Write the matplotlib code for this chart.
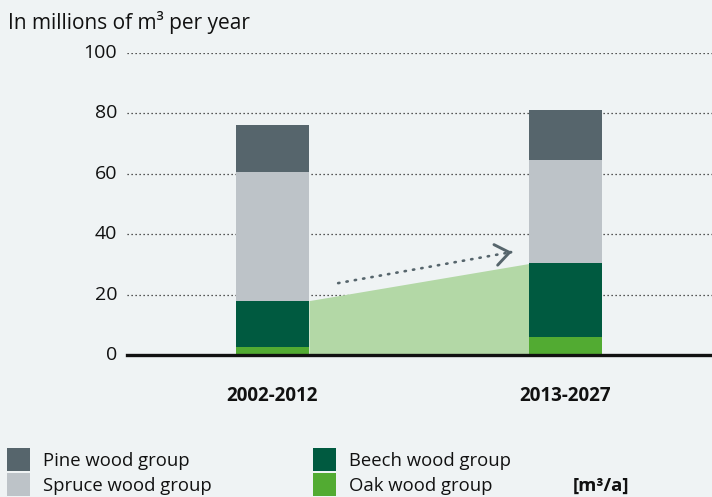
import matplotlib
matplotlib.use("Agg")
import matplotlib.pyplot as plt
from matplotlib.patches import Rectangle

plt.rcParams['font.family'] = ['Open Sans', 'DejaVu Sans']

periods = ["2002-2012", "2013-2027"]
oak = [2.7, 6.0]
beech = [15.3, 24.3]
spruce = [42.5, 34.4]
pine = [15.5, 16.3]
y_ticks = [0, 20, 40, 60, 80, 100]
arrow_start = (0.224, 23.8)
arrow_end = (0.817, 34.1)

series_names = ["Pine wood group", "Spruce wood group", "Beech wood group", "Oak wood group"]
c_pine = "#56656c"
c_spruce = "#bdc3c8"
c_beech = "#005a40"
c_oak = "#52ab32"
c_area = "#b3d8a6"
bg = "#eff3f4"

W, H = 712, 497
fig = plt.figure(figsize=(W / 100, H / 100), dpi=100, facecolor=bg)
ax = fig.add_axes([127 / W, (H - 355) / H, (712 - 127) / W, 302 / H])
ax.set_facecolor(bg)

ax.set_xlim(-0.4966, 1.5)
ax.set_ylim(0, 100)

x = [0, 1]
bw = 0.249
b_oak = [0, 0]
b_beech = oak
b_spruce = [o + b for o, b in zip(oak, beech)]
b_pine = [s + sp for s, sp in zip(b_spruce, spruce)]

ax.fill_between([x[0] + bw / 2, x[1] - bw / 2], [0, 0], [b_spruce[0], b_spruce[1]],
                color=c_area, lw=0, zorder=2)

for yv in y_ticks[1:]:
    ax.axhline(yv, color="#222222", lw=0.9, ls=(0, (1, 2.2)), zorder=1)

ax.bar(x, oak, bw, bottom=b_oak, color=c_oak, zorder=3)
ax.bar(x, beech, bw, bottom=b_beech, color=c_beech, zorder=3)
ax.bar(x, spruce, bw, bottom=b_spruce, color=c_spruce, zorder=3)
ax.bar(x, pine, bw, bottom=b_pine, color=c_pine, zorder=3)

# dotted arrow shaft + open chevron head
fx = arrow_start[0] + 0.965 * (arrow_end[0] - arrow_start[0])
fy = arrow_start[1] + 0.965 * (arrow_end[1] - arrow_start[1])
ax.plot([arrow_start[0], fx], [arrow_start[1], fy],
        color=c_pine, lw=1.9, ls=(0, (0.5, 2.7)), dash_capstyle="round", zorder=4)
hx = arrow_start[0] + 0.995 * (arrow_end[0] - arrow_start[0])
hy = arrow_start[1] + 0.995 * (arrow_end[1] - arrow_start[1])
ax.annotate("", xy=arrow_end, xytext=(hx, hy),
            arrowprops=dict(arrowstyle="->,head_length=1.0,head_width=0.75",
                            color=c_pine, lw=2.1, shrinkA=0, shrinkB=0), zorder=4)

ax.axhline(0, color="#111111", lw=2.4, zorder=5, clip_on=False)
ax.axhline(0.35, color="#9a9a9a", lw=0.6, zorder=4)

for s in ax.spines.values():
    s.set_visible(False)
ax.set_xticks([])
ax.set_yticks([])

for yv in y_ticks:
    ax.text(-0.4966 - 10 / 293, yv, str(yv), ha="right", va="center",
            fontsize=14, color="#111111")
for xi, lab in zip(x, periods):
    ax.text(xi, -13.5, lab, ha="center", va="center", fontsize=13.5,
            fontweight="bold", color="#111111")

fig.text(8 / W, 1 - 22 / H, "In millions of m³ per year", ha="left", va="center",
         fontsize=15, color="#111111")

leg_cols = [c_pine, c_spruce, c_beech, c_oak]
leg_pos = [(7, 448), (7, 473), (313, 448), (313, 473)]
for name, col, (lx, ly) in zip(series_names, leg_cols, leg_pos):
    fig.patches.append(Rectangle((lx / W, 1 - (ly + 23) / H), 23 / W, 23 / H,
                                 transform=fig.transFigure, color=col, lw=0))
    fig.text((lx + 36) / W, 1 - (ly + 13) / H, name, ha="left", va="center",
             fontsize=13.3, color="#111111")
fig.text(573 / W, 1 - 486 / H, "[m³/a]", ha="left", va="center", fontsize=13.3,
         fontweight="bold", color="#111111")

fig.savefig("out.png", dpi=100, facecolor=bg)
